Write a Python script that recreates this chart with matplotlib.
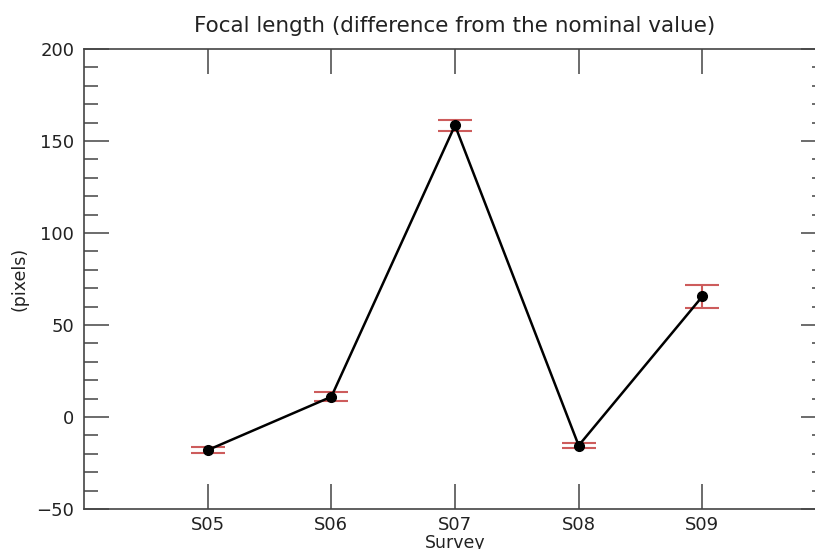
import matplotlib
matplotlib.use("Agg")
import matplotlib.pyplot as plt
from matplotlib.ticker import MultipleLocator

surveys = ["S05", "S06", "S07", "S08", "S09"]
values = [-18.0, 11.0, 158.5, -15.5, 65.5]
errors = [1.5, 2.5, 3.0, 1.5, 6.5]

fig = plt.figure(figsize=(8.15, 5.49), dpi=100)
ax = fig.add_axes([84/815, 40/549, 742/815, 460/549])

x = list(range(len(surveys)))
ax.errorbar(x, values, yerr=errors, fmt='none', ecolor='#cd5c5c', elinewidth=1.5,
            capsize=12, capthick=1.5, zorder=2)
ax.plot(x, values, color='black', lw=1.8, marker='o', markersize=7, zorder=3)

ax.set_xlim(-1, 5)
ax.set_ylim(-50, 200)
ax.set_xticks(x)
ax.set_xticklabels(surveys)
ax.yaxis.set_major_locator(MultipleLocator(50))
ax.yaxis.set_minor_locator(MultipleLocator(10))

tc = '#444444'
ax.tick_params(axis='both', which='major', direction='in', length=18, width=1.1,
               color=tc, labelsize=13, labelcolor='#222222', top=True, right=True)
ax.tick_params(axis='x', which='major', pad=5)
ax.tick_params(axis='y', which='major', pad=7)
ax.tick_params(axis='y', which='minor', direction='in', length=10, width=1.1,
               color=tc, right=True)
for s in ax.spines.values():
    s.set_color(tc)
    s.set_linewidth(1.2)

ax.set_title("Focal length (difference from the nominal value)", fontsize=15.5,
             pad=12, color='#222222')
ax.set_xlabel("Survey", fontsize=12.5, labelpad=0, color='#222222')
ax.set_ylabel("(pixels)", fontsize=12.5, labelpad=6, color='#222222')

fig.savefig("out.png", dpi=100)
